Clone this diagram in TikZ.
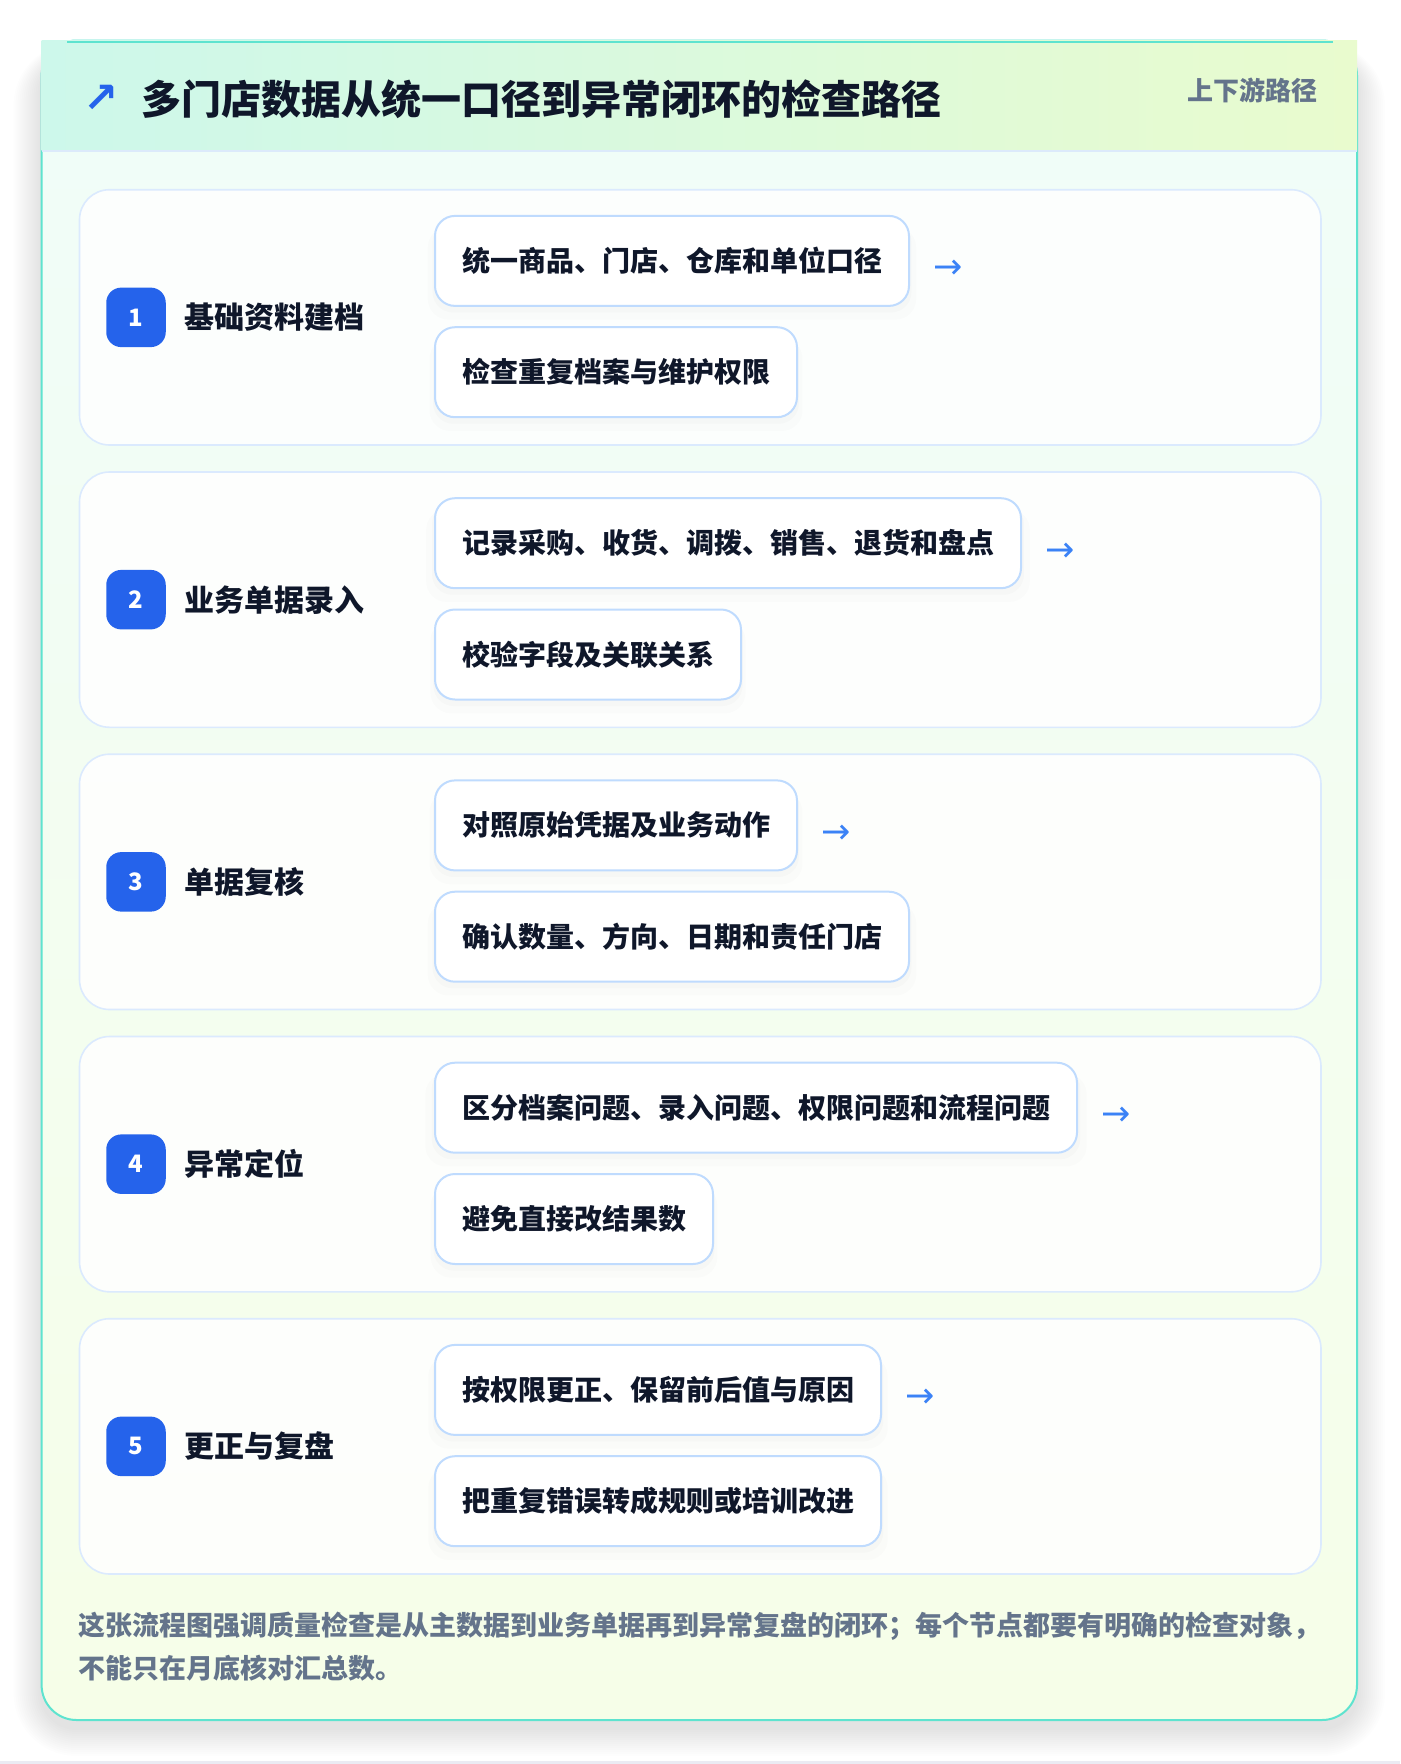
\documentclass[tikz,border=0pt]{standalone}
\usepackage{fontspec}
\setmainfont{Noto Sans CJK SC}
\newfontfamily\dejavu{DejaVu Sans}
\usetikzlibrary{calc,shadows}
\definecolor{ink}{HTML}{0F172A}
\definecolor{muted}{HTML}{64748B}
\definecolor{cardline}{HTML}{5EE3CF}
\definecolor{hdrL}{HTML}{CDF8EB}
\definecolor{hdrR}{HTML}{E9FBCE}
\definecolor{bodyT}{HTML}{F0FDF9}
\definecolor{bodyB}{HTML}{F6FEE8}
\definecolor{hdrsep}{HTML}{DCEAFB}
\definecolor{rowline}{HTML}{DBEAFE}
\definecolor{boxline}{HTML}{BFDBFE}
\definecolor{badgeblue}{HTML}{2563EB}
\definecolor{arrowblue}{HTML}{3B82F6}
\definecolor{pagestrip}{HTML}{EBEBF3}
\tikzset{
  rowcard/.style={draw=rowline, line width=1.6pt, fill=white, fill opacity=0.85,
    rounded corners=30pt, minimum width=1241.5pt, minimum height=255.3pt,
    inner sep=0pt, anchor=north west},
  badge/.style={fill=badgeblue, text=white, rounded corners=15pt, minimum size=59.5pt,
    inner sep=0pt, font=\fontsize{24}{24}\selectfont\bfseries},
  steplabel/.style={anchor=west, inner sep=0pt, text=ink,
    font=\fontsize{30}{30}\selectfont\bfseries},
  itembox/.style={anchor=west, draw=boxline, line width=2pt, fill=white,
    rounded corners=20pt, minimum height=90pt, inner xsep=27pt, inner ysep=0pt,
    text=ink, font=\fontsize{28}{28}\selectfont\bfseries,
    drop shadow={opacity=0.025, shadow xshift=0pt, shadow yshift=-12pt, shadow scale=1.03},
    drop shadow={opacity=0.03, shadow xshift=0pt, shadow yshift=-6pt, shadow scale=1.01}},
  flowarrow/.style={anchor=base west, inner sep=0pt, text=arrowblue,
    font=\fontsize{35}{35}\selectfont\dejavu},
}
\newcommand\mkrow[5]{%
  \node[rowcard] (row#1) at (78.7,#2) {};
  \node[badge] (b#1) at ($(row#1.west)+(57.3,0)$) {#1};
  \node[steplabel] (l#1) at ($(row#1.west)+(105.7,0)$) {#3};
  \node[itembox] (i#1a) at ($(row#1.north west)+(355.3,72)$) {#4};
  \node[itembox] (i#1b) at ($(row#1.north west)+(355.3,183.3)$) {#5};
  \node[flowarrow] (a#1) at ($(i#1a.east)+(23,18)$) {→};
}
\begin{document}
\begin{tikzpicture}[x=1pt,y=-1pt]
\useasboundingbox (0,0) rectangle (1400,1764);
\fill[white] (0,0) rectangle (1400,1764);
\fill[pagestrip] (0,1761) rectangle (1400,1764);
% soft shadow of the card
\foreach \k in {1,...,14} {
  \pgfmathsetmacro\r{35+2*\k}
  \fill[black, opacity=0.007, rounded corners=\r pt]
    (41.6-2*\k, 40.5-\k+16) rectangle (1357+2*\k, 1720+2*\k+8);
}
% card
\shade[top color=bodyT, bottom color=bodyB, rounded corners=35pt] (41.6,40.5) rectangle (1357,1720);
\draw[cardline, line width=2pt, rounded corners=35pt] (41.6,40.5) rectangle (1357,1720);
\shade[left color=hdrL, right color=hdrR] (41.6,40.5) rectangle (1357,150.7);
\draw[cardline, line width=2pt] (67,41.5) -- (1333,41.5);
\draw[hdrsep, line width=2pt] (41.6,150.7) -- (1357,150.7);
% header
\node[font=\fontsize{42}{42}\selectfont\dejavu\bfseries, text=badgeblue, inner sep=0pt] (ticon) at (101.5,99) {↗};
\node[anchor=west, inner sep=0pt, text=ink, font=\fontsize{40}{40}\selectfont\bfseries] (title) at (141,99) {多门店数据从统一口径到异常闭环的检查路径};
\node[anchor=east, inner sep=0pt, text=muted, font=\fontsize{26}{26}\selectfont\bfseries] (tag) at (1318,90) {上下游路径};
% rows
\mkrow{1}{188.9}{基础资料建档}{统一商品、门店、仓库和单位口径}{检查重复档案与维护权限}
\mkrow{2}{471.2}{业务单据录入}{记录采购、收货、调拨、销售、退货和盘点}{校验字段及关联关系}
\mkrow{3}{753.4}{单据复核}{对照原始凭据及业务动作}{确认数量、方向、日期和责任门店}
\mkrow{4}{1035.7}{异常定位}{区分档案问题、录入问题、权限问题和流程问题}{避免直接改结果数}
\mkrow{5}{1317.9}{更正与复盘}{按权限更正、保留前后值与原因}{把重复错误转成规则或培训改进}
% footer
\node[anchor=west, inner sep=0pt, align=left, text=muted, font=\fontsize{27}{43}\selectfont\bfseries] (note) at (78.3,1646.5) {这张流程图强调质量检查是从主数据到业务单据再到异常复盘的闭环；每个节点都要有明确的检查对象，\\不能只在月底核对汇总数。};
\end{tikzpicture}
\end{document}
